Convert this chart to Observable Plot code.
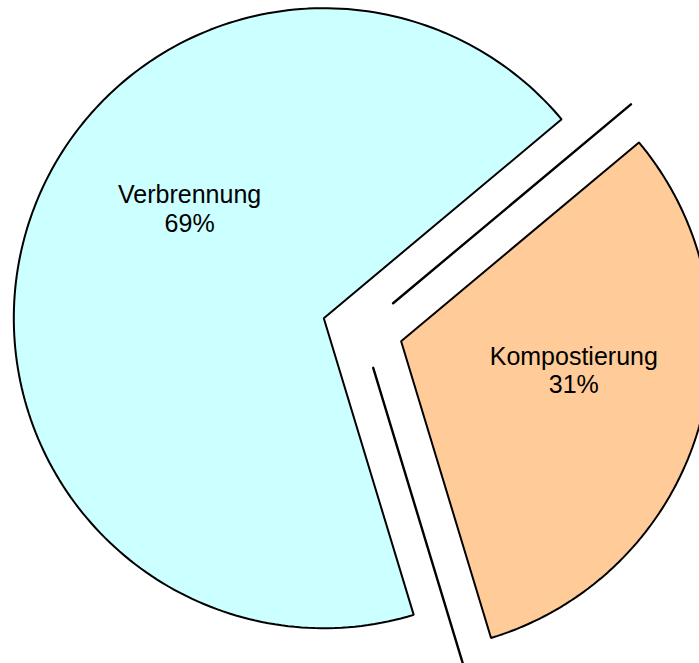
<!DOCTYPE html>
<html><head><meta charset="utf-8">
<script src="https://cdn.jsdelivr.net/npm/d3@7"></script>
<script src="https://cdn.jsdelivr.net/npm/@observablehq/plot@0.6"></script>
<style>html,body{margin:0;padding:0;background:#fff}#chart svg{display:block}</style>
</head><body><div id="chart"></div>
<script>
// ---- data ----
const categories = ["Kompostierung", "Verbrennung"];
const shares = [31.4, 68.6];

// ---- style / layout ----
const colors = ["#FFCC99", "#CCFFFF"];
const W = 699, H = 663;
const R = 310;                 // pie radius (px)
const cx = 323.3, cy = 317.7;  // pixel position of the unexploded pie centre
const startDeg = 50.1;         // first slice starts here (clockwise from north)
const explode = [80.7, 0];     // explosion distance per slice
const labelAngle = [99.4, 309.3];
const labelDist = [175, 173.4];
// separator strokes in the gap: boundary index, offset dir, offset distance
const gapLines = [
  {boundary: 0, dirDeg: 77.8, dist: 70.9},
  {boundary: 1, dirDeg: 135.1, dist: 70.0}
];

const rad = d => d * Math.PI / 180;
const arcs = d3.pie().sort(null).value(d => d)
  .startAngle(rad(startDeg)).endAngle(rad(startDeg) + 2 * Math.PI)(shares);

const slices = [];
const labels = [];
arcs.forEach((a, i) => {
  const mid = (a.startAngle + a.endAngle) / 2;
  const ox = explode[i] * Math.sin(mid), oy = explode[i] * Math.cos(mid);
  slices.push({name: categories[i], x: ox, y: oy});
  const n = 200;
  for (let k = 0; k <= n; k++) {
    const t = a.startAngle + (a.endAngle - a.startAngle) * k / n;
    slices.push({name: categories[i], x: ox + R * Math.sin(t), y: oy + R * Math.cos(t)});
  }
  const la = rad(labelAngle[i]);
  labels.push({
    text: categories[i] + "\n" + d3.format(".0%")(shares[i] / d3.sum(shares)),
    x: ox + labelDist[i] * Math.sin(la), y: oy + labelDist[i] * Math.cos(la)
  });
});

const boundaries = [arcs[0].startAngle, arcs[0].endAngle];
const segs = [];
gapLines.forEach((g, j) => {
  const b = boundaries[g.boundary];
  const sx = g.dist * Math.sin(rad(g.dirDeg)), sy = g.dist * Math.cos(rad(g.dirDeg));
  segs.push({id: j, x: sx, y: sy});
  segs.push({id: j, x: sx + R * Math.sin(b), y: sy + R * Math.cos(b)});
});

const chart = Plot.plot({
  width: W, height: H,
  margin: 0,
  x: {domain: [-cx, W - cx], range: [0, W], axis: null},
  y: {domain: [cy - H, cy], range: [H, 0], axis: null},
  style: {background: "#fff", fontFamily: "'Liberation Sans', Arial, sans-serif"},
  marks: [
    ...categories.map((c, i) => Plot.line(slices.filter(d => d.name === c), {
      x: "x", y: "y", curve: "linear-closed",
      fill: colors[i], stroke: "#000", strokeWidth: 2, strokeLinejoin: "miter"
    })),
    Plot.line(segs, {x: "x", y: "y", z: "id", stroke: "#000", strokeWidth: 2.4}),
    Plot.text(labels, {
      x: "x", y: "y", text: "text", fontSize: 25, lineHeight: 1.13,
      fill: "#000", textAnchor: "middle", lineAnchor: "middle"
    })
  ]
});
document.getElementById("chart").append(chart);
</script>
</body></html>
